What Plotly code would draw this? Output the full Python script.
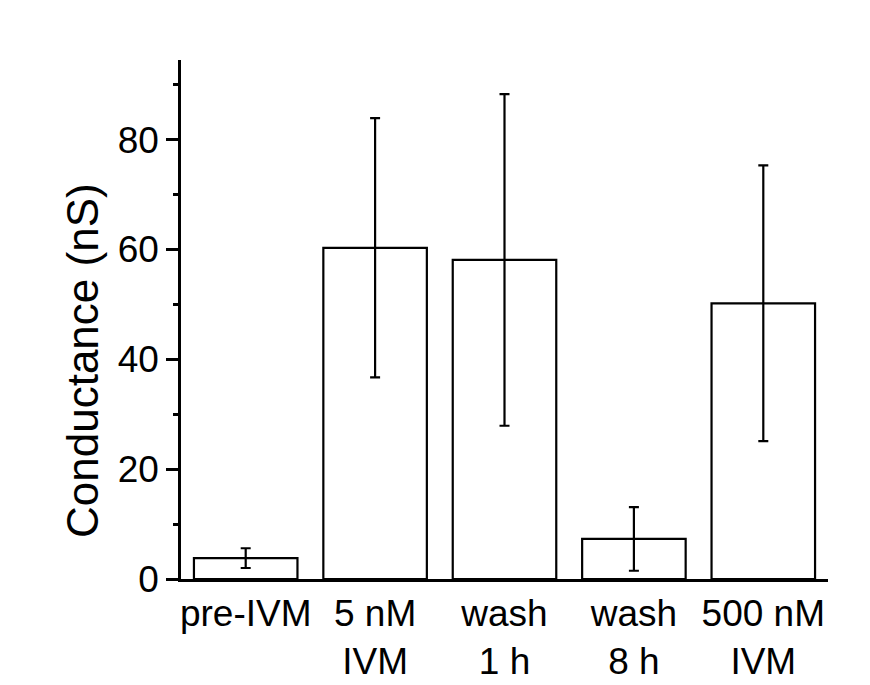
import plotly.graph_objects as go

categories = ["pre-IVM", "5 nM<br>IVM", "wash<br>1 h", "wash<br>8 h", "500 nM<br>IVM"]
values = [3.8, 60.3, 58.1, 7.3, 50.2]
errors = [1.8, 23.6, 30.2, 5.8, 25.1]
y_ticks = [0, 20, 40, 60, 80]

FONT = "Liberation Sans, Arial, sans-serif"

fig = go.Figure()
fig.add_trace(go.Bar(
    x=list(range(len(categories))),
    y=values,
    width=0.8,
    marker=dict(color="white", line=dict(color="black", width=2.2)),
    error_y=dict(type="data", array=errors, visible=True,
                 color="black", thickness=2.2, width=5),
    showlegend=False,
))

fig.update_layout(
    width=870, height=685,
    margin=dict(l=181, r=42, t=60, b=106, autoexpand=False),
    paper_bgcolor="white", plot_bgcolor="white",
    font=dict(family=FONT, size=37, color="black"),
    bargap=0.2,
    xaxis=dict(
        range=[-0.5, 4.5],
        tickmode="array",
        tickvals=list(range(len(categories))),
        ticktext=categories,
        ticks="",
        showline=True, linecolor="black", linewidth=2.5,
        showgrid=False, zeroline=False,
        tickfont=dict(family=FONT, size=37, color="black"),
    ),
    yaxis=dict(
        range=[0, 94.5],
        tickmode="array",
        tickvals=y_ticks,
        ticktext=[str(v) for v in y_ticks],
        ticks="outside", ticklen=12, tickwidth=2.5, tickcolor="black",
        minor=dict(tickmode="array", tickvals=[10, 30, 50, 70, 90],
                   ticks="outside", ticklen=5, tickwidth=2.5, tickcolor="black"),
        showline=True, linecolor="black", linewidth=2.5,
        showgrid=False, zeroline=False,
        tickfont=dict(family=FONT, size=37, color="black"),
    ),
    annotations=[dict(
        text="Conductance (nS)", textangle=-90,
        xref="paper", yref="paper",
        x=(82 - 181) / 647, y=(579 - 361) / 519,
        xanchor="center", yanchor="middle", showarrow=False,
        font=dict(family=FONT, size=44, color="black"),
    )],
)

fig.write_html("out.html")
